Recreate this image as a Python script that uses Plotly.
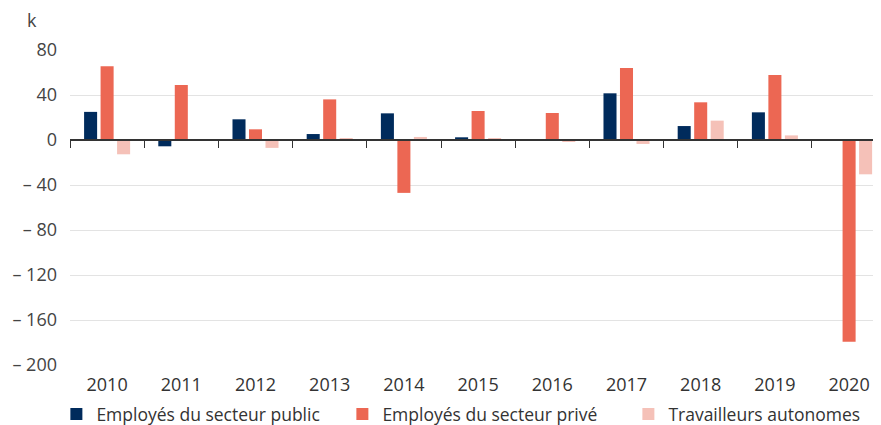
import plotly.graph_objects as go

# Data (k)
annees = ["2010", "2011", "2012", "2013", "2014", "2015", "2016", "2017", "2018", "2019", "2020"]
public = [25, -5.6, 18.4, 5.3, 23.7, 2.4, 0.2, 41.5, 12.4, 24.6, 0.3]
prive = [65.5, 48.9, 9.5, 36.1, -47, 25.8, 24, 64, 33.5, 57.8, -179.3]
autonomes = [-12.7, 0.5, -7, 1.5, 2.7, 1.5, -1.2, -3.5, 17.2, 4.1, -30.5]

y_ticks = [80, 40, 0, -40, -80, -120, -160, -200]
y_labels = ["80", "40", "0", "– 40", "– 80", "– 120", "– 160", "– 200"]

couleurs = ["#002b5c", "#ec6753", "#f5c1b8"]
noms = ["Employés du secteur public", "Employés du secteur privé", "Travailleurs autonomes"]

y_min, y_max = -200, 80
x_range = [-0.5, 10.43]

fig = go.Figure()
for serie, nom, col in zip([public, prive, autonomes], noms, couleurs):
    fig.add_trace(go.Bar(
        x=annees,
        y=serie,
        name=nom,
        marker_color=col,
        marker_line_width=0,
    ))

# invisible trace to carry the zero axis (ticks between categories)
fig.add_trace(go.Scatter(
    x=annees, y=[None] * len(annees),
    xaxis="x2", yaxis="y", showlegend=False, hoverinfo="skip",
))

# page body has an 8px margin, so the figure is a bit smaller than the window
fig.update_layout(
    width=873, height=417,
    margin=dict(l=62, r=0, t=42, b=60, autoexpand=False),
    paper_bgcolor="white",
    plot_bgcolor="white",
    font=dict(family="Open Sans", size=18, color="#333333"),
    barmode="group",
    bargap=0.333,
    bargroupgap=0.21,
    showlegend=True,
    legend=dict(
        orientation="h",
        x=-0.0168, xanchor="left",
        y=-0.156, yanchor="middle",
        entrywidth=241,
        bgcolor="rgba(0,0,0,0)",
        font=dict(size=17.5, color="#333333"),
        itemclick=False,
    ),
    xaxis=dict(
        type="category",
        categoryarray=annees,
        range=x_range,
        showgrid=False,
        showline=False,
        ticks="",
        automargin=False,
        ticklabelstandoff=7,
        tickfont=dict(size=18, color="#333333"),
    ),
    xaxis2=dict(
        type="category",
        categoryarray=annees,
        range=x_range,
        overlaying="x",
        anchor="free",
        position=(0 - y_min) / (y_max - y_min),
        showgrid=False,
        showline=True,
        linecolor="#333333",
        linewidth=1.5,
        ticks="outside",
        tickson="boundaries",
        ticklen=7,
        tickwidth=1.2,
        tickcolor="#333333",
        showticklabels=False,
        automargin=False,
    ),
    yaxis=dict(
        range=[y_min, y_max],
        tickvals=y_ticks,
        ticktext=y_labels,
        showgrid=True,
        gridcolor="#e3e3e3",
        gridwidth=1,
        zeroline=False,
        showline=False,
        ticks="",
        automargin=False,
        ticklabelstandoff=12,
        tickfont=dict(size=18, color="#444444"),
    ),
    annotations=[dict(
        text="k", xref="paper", yref="paper",
        x=0, y=1, xanchor="right", yanchor="bottom",
        xshift=-31, yshift=16, showarrow=False,
        font=dict(size=18, color="#444444"),
    )],
)

fig.write_html("out.html")
